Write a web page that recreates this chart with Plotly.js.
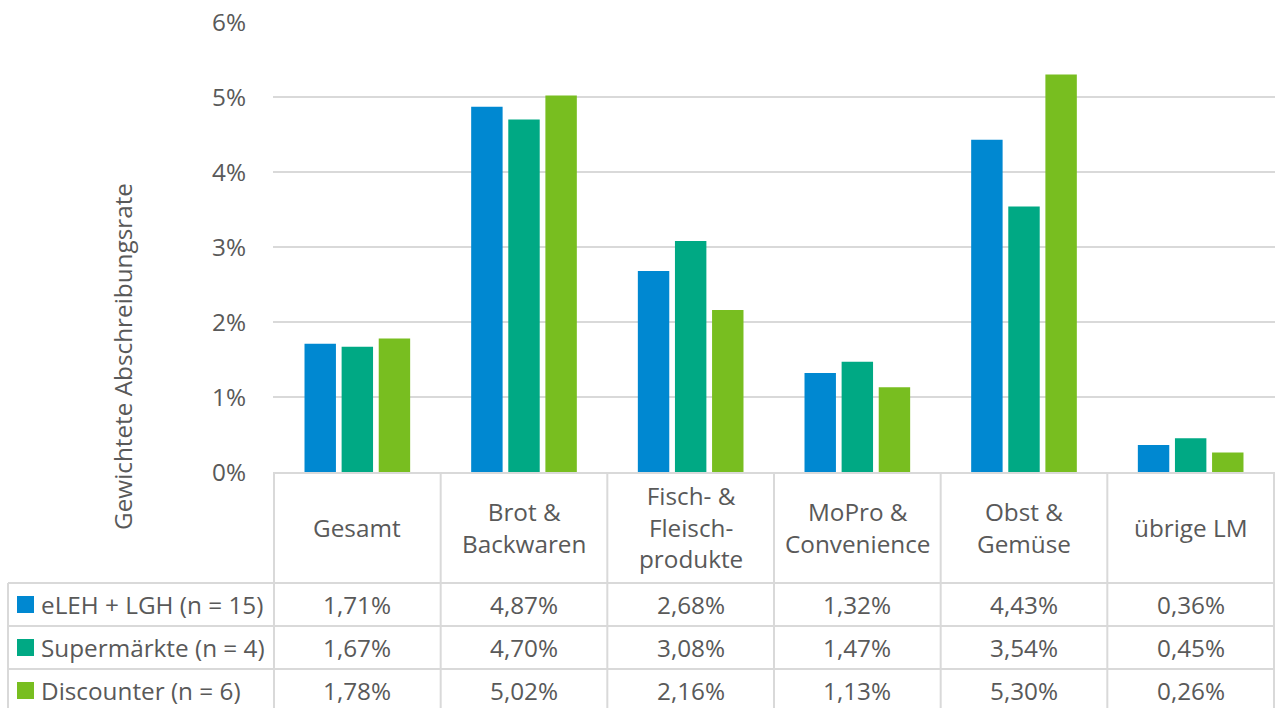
<!DOCTYPE html>
<html><head><meta charset="utf-8">
<script src="https://cdn.plot.ly/plotly-3.0.1.min.js"></script>
<style>html,body{margin:0;padding:0;background:#fff}#chart{width:1275px;height:708px}</style>
</head><body><div id="chart"></div>
<script>
const categories = ["Gesamt", "Brot &<br>Backwaren", "Fisch- &<br>Fleisch-<br>produkte", "MoPro &<br>Convenience", "Obst &<br>Gemüse", "übrige LM"];
const seriesNames = ["eLEH + LGH (n = 15)", "Supermärkte (n = 4)", "Discounter (n = 6)"];
const eleh = [1.71, 4.87, 2.68, 1.32, 4.43, 0.36];
const supermaerkte = [1.67, 4.70, 3.08, 1.47, 3.54, 0.45];
const discounter = [1.78, 5.02, 2.16, 1.13, 5.30, 0.26];
const yTicks = [0, 1, 2, 3, 4, 5, 6];
const colors = ["#0088D1", "#00A984", "#78BE20"];

const W = 1275, H = 708, L = 273, R = 0, T = 22, B = 236;
const pw = W - L - R, ph = H - T - B;
const px = x => (x - L) / pw;
const py = y => (H - B - y) / ph;

const series = [eleh, supermaerkte, discounter];
const font = {family: "Open Sans, sans-serif", size: 24.3, color: "#595959"};
const traces = series.map((vals, i) => ({
  type: "bar", x: categories, y: vals, name: seriesNames[i],
  marker: {color: colors[i]}, hoverinfo: "skip"
}));

const gridCol = "#d9d9d9";
const shapes = [];
const annotations = [];
for (let i = 0; i <= categories.length; i++) {
  shapes.push({type: "line", xref: "x", yref: "paper", x0: i - 0.5, x1: i - 0.5, y0: 0, y1: py(H + 5), line: {color: gridCol, width: 2}});
}
shapes.push({type: "line", xref: "paper", yref: "paper", x0: px(8), x1: px(8), y0: py(583), y1: py(H + 5), line: {color: gridCol, width: 2}});
[583, 626, 669].forEach(y => shapes.push({type: "line", xref: "paper", yref: "paper", x0: px(8), x1: 1, y0: py(y), y1: py(y), line: {color: gridCol, width: 2}}));
categories.forEach(c => annotations.push({xref: "x", yref: "paper", x: c, y: py(527), text: c, showarrow: false, yanchor: "middle", font: font}));
const rowY = [604.5, 647.5, 690.5];
series.forEach((vals, s) => {
  vals.forEach((v, i) => annotations.push({xref: "x", yref: "paper", x: categories[i], y: py(rowY[s]), text: v.toFixed(2).replace(".", ",") + "%", showarrow: false, yanchor: "middle", font: font}));
  shapes.push({type: "rect", xref: "paper", yref: "paper", x0: px(17), x1: px(34), y0: py(rowY[s] - 8.5), y1: py(rowY[s] + 8.5), fillcolor: colors[s], line: {width: 0}});
  annotations.push({xref: "paper", yref: "paper", x: px(39), y: py(rowY[s]), text: seriesNames[s], showarrow: false, xanchor: "left", yanchor: "middle", font: font});
});
annotations.push({xref: "paper", yref: "paper", x: px(122), y: py(357), text: "Gewichtete Abschreibungsrate", textangle: -90, showarrow: false, xanchor: "center", yanchor: "middle", font: font});

const layout = {
  width: W, height: H,
  margin: {l: L, r: R, t: T, b: B, pad: 0},
  paper_bgcolor: "#fff", plot_bgcolor: "#fff",
  showlegend: false,
  barmode: "group", bargap: 0.332, bargroupgap: 0.153,
  font: font,
  xaxis: {type: "category", showticklabels: false, showgrid: false, showline: true, linecolor: gridCol, linewidth: 2, ticks: "", zeroline: false, fixedrange: true},
  yaxis: {range: [0, 6], tickvals: yTicks, ticktext: yTicks.map(t => t + "%"), showgrid: true, gridcolor: gridCol, gridwidth: 1.5, zeroline: false, showline: false, ticks: "", ticklabelstandoff: 26, tickfont: font, fixedrange: true},
  shapes: shapes,
  annotations: annotations
};
Plotly.newPlot("chart", traces, layout, {displayModeBar: false, staticPlot: true});
</script></body></html>
